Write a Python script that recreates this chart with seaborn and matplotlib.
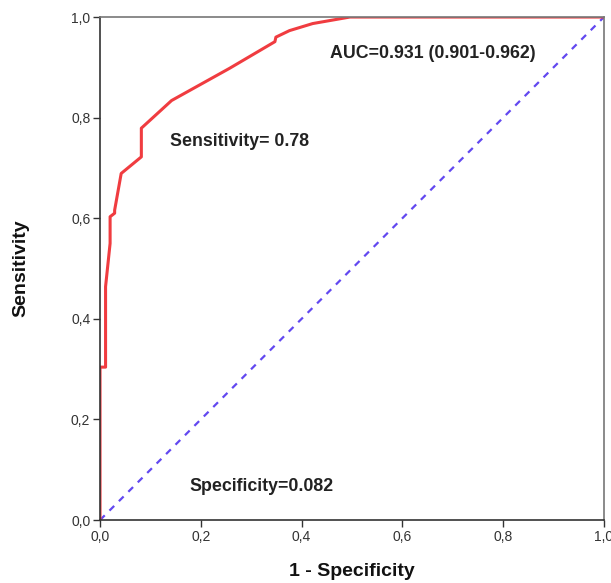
import numpy as np
import pandas as pd
import seaborn as sns
import matplotlib.pyplot as plt
from matplotlib.ticker import FuncFormatter

# ROC curve points
fpr = [0.0, 0.0, 0.011, 0.011, 0.02, 0.02, 0.029, 0.029, 0.042, 0.082, 0.082,
       0.142, 0.257, 0.347, 0.349, 0.376, 0.422, 0.496, 1.0]
tpr = [0.0, 0.304, 0.304, 0.464, 0.55, 0.603, 0.61, 0.616, 0.689, 0.722, 0.779,
       0.834, 0.898, 0.951, 0.96, 0.973, 0.987, 1.0, 1.0]
diag = [0.0, 1.0]

auc_text = "AUC=0.931 (0.901-0.962)"
sens_text = "Sensitivity= 0.78"
spec_text = "Specificity=0.082"
ticks = [0.0, 0.2, 0.4, 0.6, 0.8, 1.0]

sns.set_style("white")
plt.rcParams['font.family'] = ['Liberation Sans', 'DejaVu Sans']

roc = pd.DataFrame({"fpr": fpr, "tpr": tpr})
ref = pd.DataFrame({"x": diag, "y": diag})

fig = plt.figure(figsize=(6.11, 5.83), dpi=100)
ax = fig.add_axes([0.1637, 0.108, 0.8248, 0.8628])

sns.lineplot(data=ref, x="x", y="y", ax=ax, color="#6248f0", lw=1.6,
             linestyle=(0, (3, 3)), estimator=None, sort=False)
sns.lineplot(data=roc, x="fpr", y="tpr", ax=ax, color="#f03c40", lw=2.2,
             estimator=None, sort=False)

ax.set_xlim(0, 1)
ax.set_ylim(0, 1)
ax.set_xticks(ticks)
ax.set_yticks(ticks)
fmt = FuncFormatter(lambda v, p: f"{v:.1f}".replace(".", ","))
ax.xaxis.set_major_formatter(fmt)
ax.yaxis.set_major_formatter(fmt)
ax.tick_params(axis="both", direction="out", length=5, width=1, color="#333333",
               labelsize=10, labelcolor="#333333", pad=2, bottom=True, left=True)

for s in ["left", "bottom"]:
    ax.spines[s].set_color("#333333")
    ax.spines[s].set_linewidth(1.2)
for s in ["top", "right"]:
    ax.spines[s].set_color("#777777")
    ax.spines[s].set_linewidth(1.2)

ax.set_xlabel("1 - Specificity", fontsize=14, fontweight="bold", labelpad=14, color="#111111")
ax.set_ylabel("Sensitivity", fontsize=14, fontweight="bold", labelpad=30, color="#111111")

ax.text(0.66, 0.928, auc_text, ha="center", va="center", fontsize=12.8, fontweight="bold", color="#222222")
ax.text(0.139, 0.753, sens_text, ha="left", va="center", fontsize=12.8, fontweight="bold", color="#222222")
ax.text(0.178, 0.066, spec_text, ha="left", va="center", fontsize=12.8, fontweight="bold", color="#222222")

fig.savefig("out.png", dpi=100)
